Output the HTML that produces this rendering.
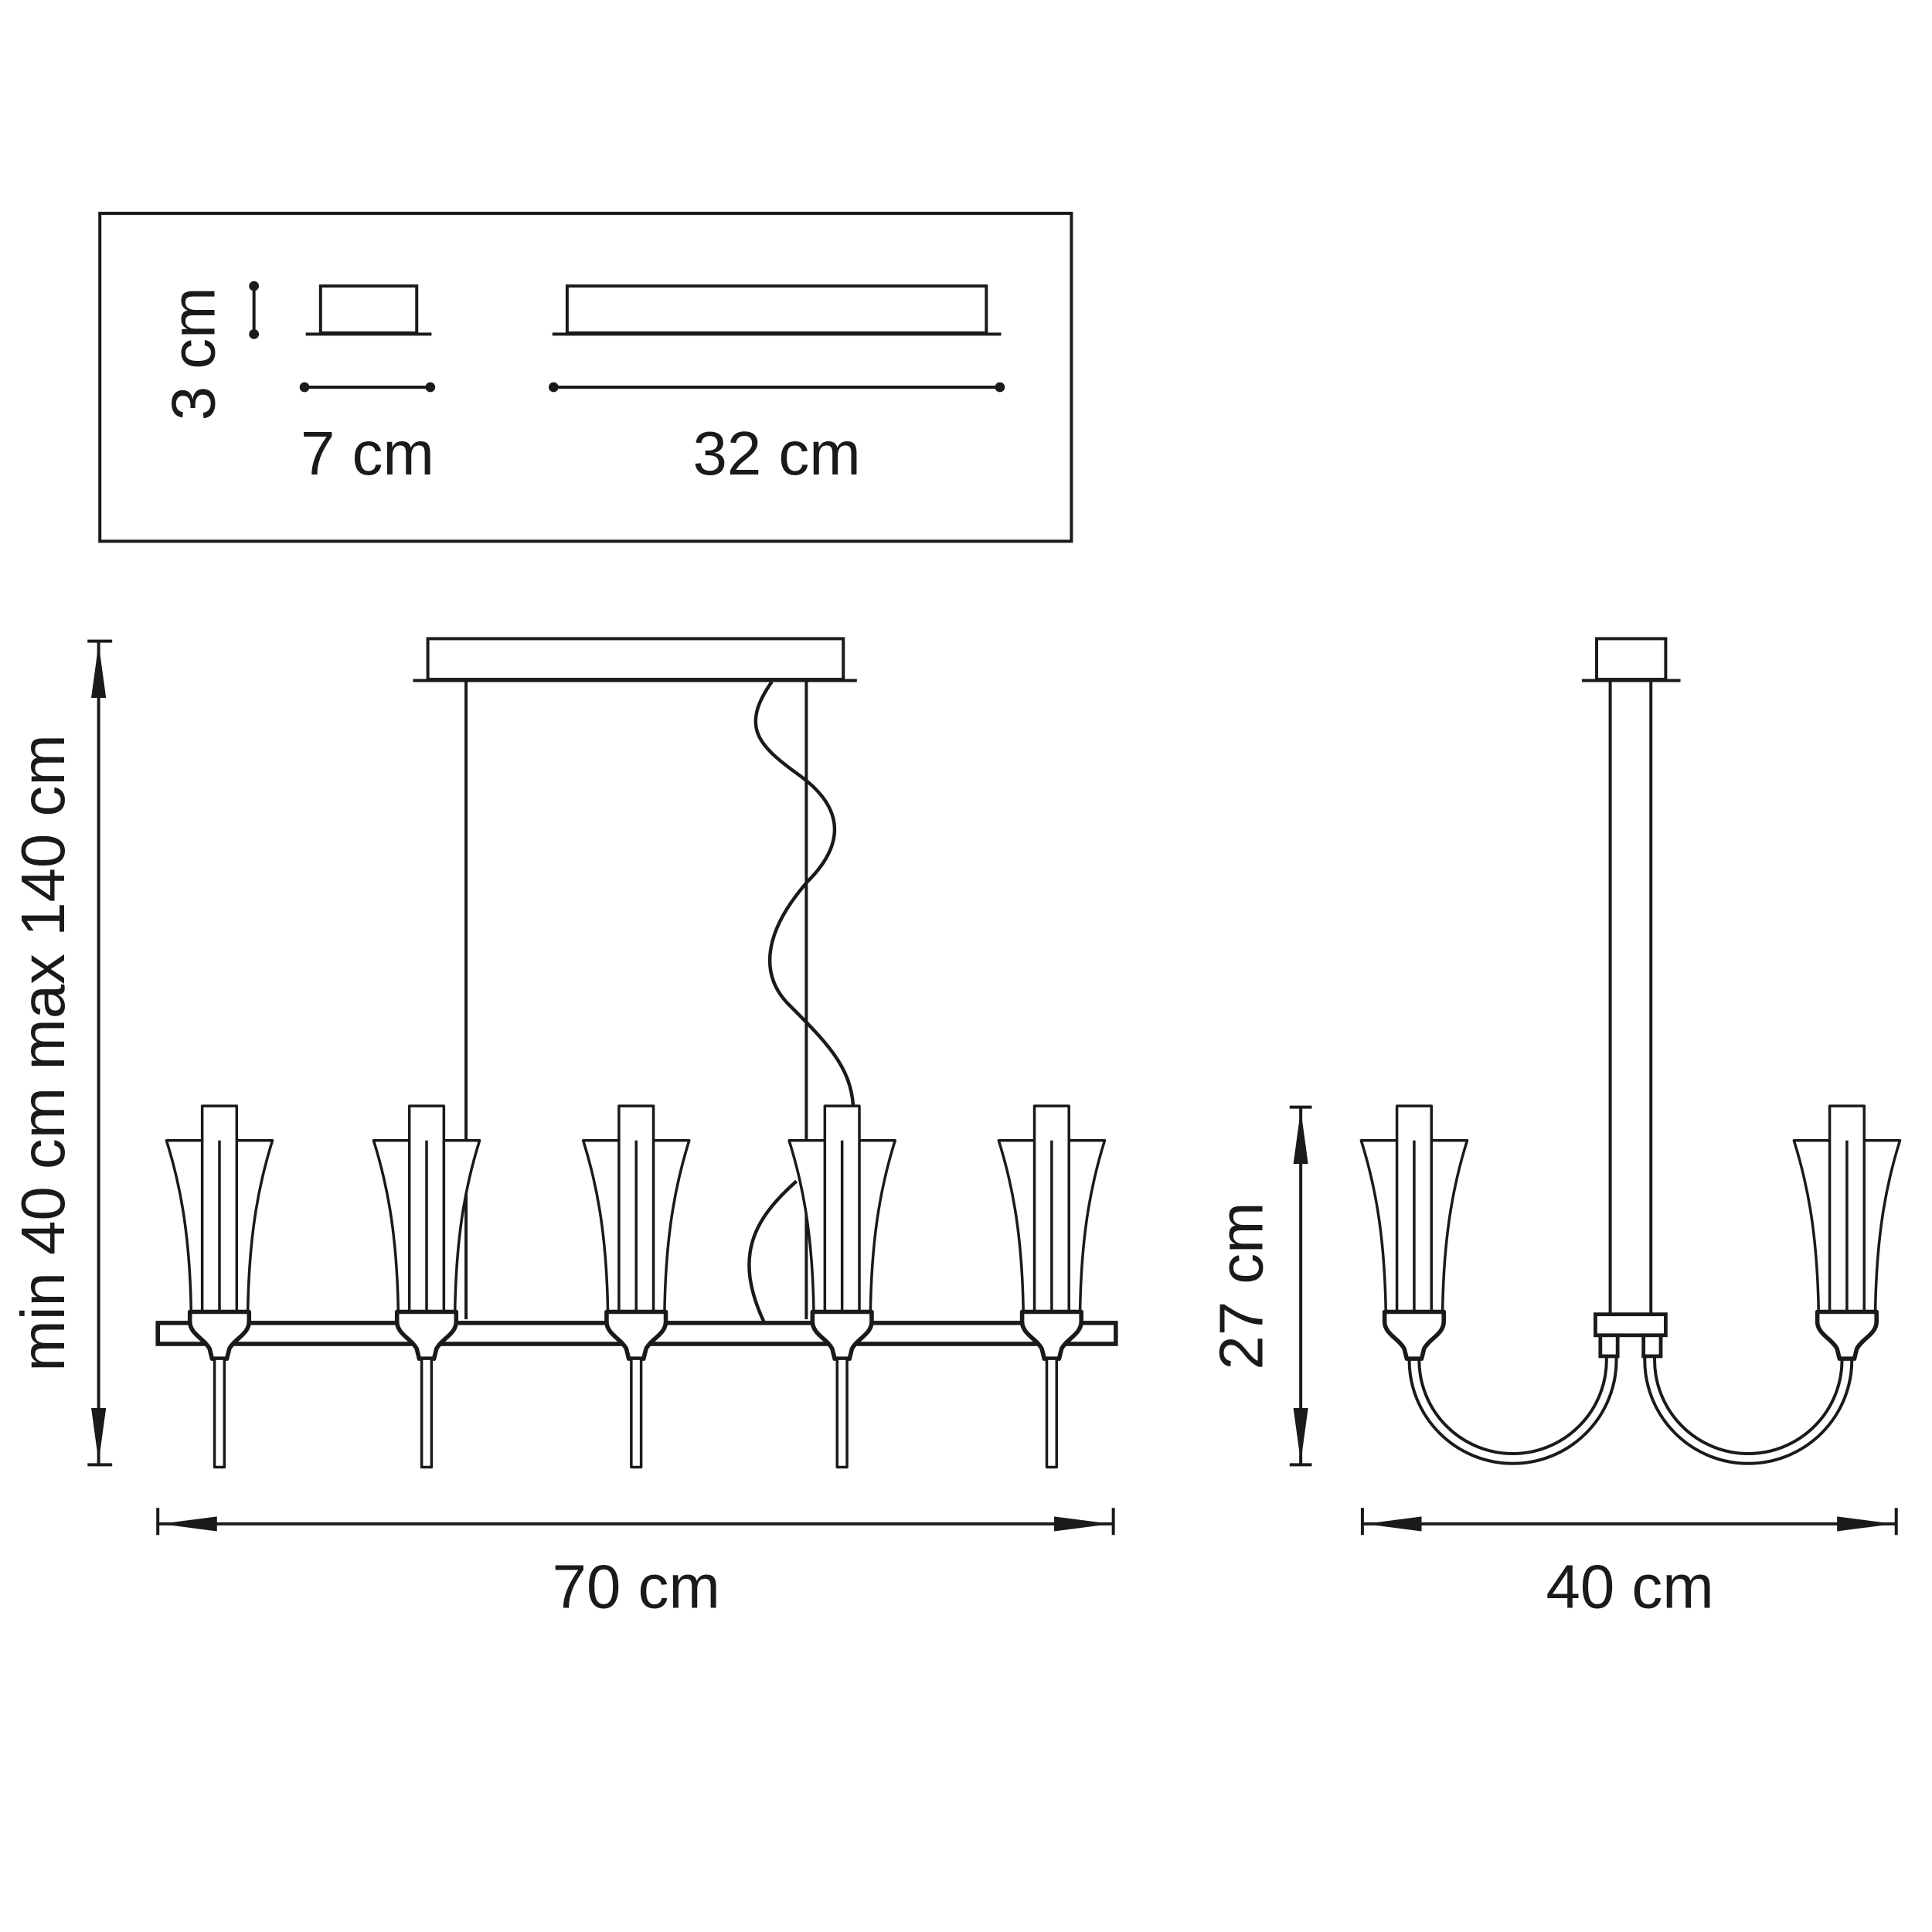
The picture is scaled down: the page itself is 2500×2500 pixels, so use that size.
<!DOCTYPE html>
<html><head><meta charset="utf-8"><style>
html,body{margin:0;padding:0;background:#fff}
svg{display:block}
text{font-family:"Liberation Sans",sans-serif;fill:#1a1a1a}
</style></head><body>
<svg width="2500" height="2500" viewBox="0 0 1567 1567" xmlns="http://www.w3.org/2000/svg">
<defs>
<g id="lamp" fill="#fff" stroke="#1a1a1a" stroke-width="2.2" stroke-linejoin="round">
  <path d="M-43,-147 L43,-147 C33,-115 24,-75 23,-8 L-23,-8 C-24,-75 -33,-115 -43,-147 Z"/>
  <rect x="-14" y="-175" width="28" height="167"/>
  <line x1="0" y1="-147" x2="0" y2="-8"/>
  <path d="M-24,-8 L24,-8 L24,0 C24,10 12,14 8,22 L6,30 L-6,30 L-8,22 C-12,14 -24,10 -24,0 Z" stroke-width="3.5"/>
  <rect x="-4" y="30" width="8" height="88"/>
</g>
<g id="lampR" fill="#fff" stroke="#1a1a1a" stroke-width="2.2" stroke-linejoin="round">
  <path d="M-43,-147 L43,-147 C33,-115 24,-75 23,-8 L-23,-8 C-24,-75 -33,-115 -43,-147 Z"/>
  <rect x="-14" y="-175" width="28" height="167"/>
  <line x1="0" y1="-147" x2="0" y2="-8"/>
  <path d="M-24,-8 L24,-8 L24,0 C24,10 12,14 8,22 L6,30 L-6,30 L-8,22 C-12,14 -24,10 -24,0 Z" stroke-width="3.5"/>
</g>
</defs>

<!-- top box -->
<g fill="none" stroke="#1a1a1a" stroke-width="2.5">
<rect x="81" y="173" width="788" height="266"/>
<rect x="260" y="232" width="78" height="38"/>
<line x1="248" y1="271" x2="350" y2="271"/>
<rect x="460" y="232" width="340" height="38"/>
<line x1="448" y1="271" x2="812" y2="271"/>
<line x1="247" y1="314" x2="349" y2="314"/>
<line x1="449" y1="314" x2="811" y2="314"/>
<line x1="206" y1="232" x2="206" y2="271"/>
</g>
<g fill="#1a1a1a">
<circle cx="247" cy="314" r="4"/><circle cx="349" cy="314" r="4"/>
<circle cx="449" cy="314" r="4"/><circle cx="811" cy="314" r="4"/>
<circle cx="206" cy="232" r="4"/><circle cx="206" cy="271" r="4"/>
</g>
<text x="298" y="385" font-size="50" text-anchor="middle">7 cm</text>
<text x="630" y="385" font-size="50" text-anchor="middle">32 cm</text>
<text transform="translate(174,287) rotate(-90)" font-size="50" text-anchor="middle">3 cm</text>

<!-- left view -->
<g fill="none" stroke="#1a1a1a" stroke-width="2.5">
<rect x="347" y="518" width="337" height="33"/>
<line x1="335" y1="552" x2="695" y2="552"/>
<line x1="378" y1="552" x2="378" y2="1070"/>
<line x1="654" y1="552" x2="654" y2="1070"/>
<path d="M626,553 C600,590 615,605 650,630 C690,660 680,690 655,715 C620,755 615,790 640,815 C670,845 690,865 692,897" stroke-width="2.8"/>
<path d="M646,958 C610,990 595,1020 620,1073" stroke-width="2.8"/>
</g>
<rect x="128" y="1073" width="777" height="17" fill="#fff" stroke="#1a1a1a" stroke-width="3.5"/>
<use href="#lamp" x="178" y="1072"/>
<use href="#lamp" x="346" y="1072"/>
<use href="#lamp" x="516" y="1072"/>
<use href="#lamp" x="683" y="1072"/>
<use href="#lamp" x="853" y="1072"/>

<!-- dims -->
<g stroke="#1a1a1a" stroke-width="2.5">
<line x1="80" y1="520" x2="80" y2="1188"/>
<line x1="71" y1="520" x2="91" y2="520"/>
<line x1="71" y1="1188" x2="91" y2="1188"/>
<line x1="128" y1="1223" x2="128" y2="1245"/>
<line x1="903" y1="1223" x2="903" y2="1245"/>
<line x1="128" y1="1236" x2="903" y2="1236"/>
<line x1="1055" y1="898" x2="1055" y2="1188"/>
<line x1="1046" y1="898" x2="1064" y2="898"/>
<line x1="1046" y1="1188" x2="1064" y2="1188"/>
<line x1="1105" y1="1223" x2="1105" y2="1245"/>
<line x1="1538" y1="1223" x2="1538" y2="1245"/>
<line x1="1105" y1="1236" x2="1538" y2="1236"/>
</g>
<g fill="#1a1a1a">
<path d="M80,522 L74,566 L86,566 Z"/><path d="M80,1186 L74,1142 L86,1142 Z"/>
<path d="M130,1236 L176,1230 L176,1242 Z"/><path d="M901,1236 L855,1230 L855,1242 Z"/>
<path d="M1055,900 L1049,944 L1061,944 Z"/><path d="M1055,1186 L1049,1142 L1061,1142 Z"/>
<path d="M1107,1236 L1153,1230 L1153,1242 Z"/><path d="M1536,1236 L1490,1230 L1490,1242 Z"/>
</g>
<text transform="translate(52,854) rotate(-90)" font-size="50" text-anchor="middle">min 40 cm max 140 cm</text>
<text x="516" y="1304" font-size="50" text-anchor="middle">70 cm</text>
<text transform="translate(1024,1043) rotate(-90)" font-size="50" text-anchor="middle">27 cm</text>
<text x="1322" y="1304" font-size="50" text-anchor="middle">40 cm</text>

<!-- right view -->
<g fill="none" stroke="#1a1a1a" stroke-width="2.5">
<rect x="1295" y="518" width="56" height="33"/>
<line x1="1283" y1="552" x2="1363" y2="552"/>
<line x1="1306" y1="552" x2="1306" y2="1066"/>
<line x1="1339" y1="552" x2="1339" y2="1066"/>
<path d="M1143,1100 L1143,1103 A84,84 0 0 0 1311,1103 L1311,1100"/>
<path d="M1151,1100 L1151,1103 A76,76 0 0 0 1303,1103 L1303,1100"/>
<path d="M1334,1100 L1334,1103 A84,84 0 0 0 1502,1103 L1502,1100"/>
<path d="M1342,1100 L1342,1103 A76,76 0 0 0 1494,1103 L1494,1100"/>
</g>
<g fill="#fff" stroke="#1a1a1a" stroke-width="3">
<rect x="1294" y="1066" width="57" height="17"/>
<rect x="1298" y="1083" width="14" height="17"/>
<rect x="1333" y="1083" width="14" height="17"/>
</g>
<use href="#lampR" x="1147" y="1072"/>
<use href="#lampR" x="1498" y="1072"/>
</svg>
</body></html>
